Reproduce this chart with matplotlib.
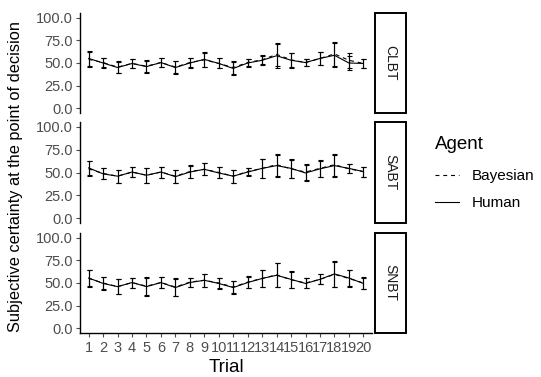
import matplotlib
matplotlib.use("Agg")
import matplotlib.pyplot as plt
from matplotlib.patches import Rectangle
import numpy as np

plt.rcParams['font.family'] = ['Liberation Sans', 'DejaVu Sans']

trials = list(range(1, 21))
panels = ["CLBT", "SABT", "SNBT"]
agents = ["Bayesian", "Human"]

human = {
    "CLBT": [55, 50, 45, 49.5, 46, 50.5, 45, 50, 54, 49.5, 44, 50, 53, 58, 53, 50.5, 55, 58.5, 50, 49.5],
    "SABT": [55, 48.5, 46, 50.5, 47, 50.5, 45.5, 50.5, 53.5, 49.5, 46, 50.5, 54.5, 57.5, 54.5, 49.5, 54, 57.5, 54.5, 51],
    "SNBT": [55.5, 49.5, 46, 50.5, 46, 50.5, 45, 50.5, 53, 49.5, 45, 50.5, 55, 58.5, 54, 49.5, 54, 60, 55.5, 49.5],
}
bayes = {
    "CLBT": [54, 50.5, 45.5, 49.5, 46.5, 50.5, 45.5, 50.5, 53.5, 49.5, 45, 50.5, 53.5, 59.5, 53.5, 50.5, 55, 60, 53, 49.5],
    "SABT": [54, 49, 46, 50.5, 47, 50.5, 46, 51, 53.5, 50, 46, 51, 54.5, 58.5, 54, 50.5, 54.5, 58.5, 54, 51],
    "SNBT": [55, 50, 46, 50.5, 46.5, 50.5, 45.5, 51, 53, 50, 45.5, 51, 55, 59, 53.5, 50, 54, 59.5, 55, 50],
}
err = {
    "CLBT": [8.5, 5, 6.5, 5, 6.5, 5, 7, 5, 8, 5.5, 7, 4, 5, 13, 8, 4, 7, 13, 8, 5],
    "SABT": [8, 6, 7, 5.5, 8, 6, 7, 7, 6.5, 6, 7, 4, 10, 12, 10, 9, 9, 12, 5, 5.5],
    "SNBT": [9, 7, 8, 5.5, 10, 6.5, 9.5, 5, 7, 6, 7, 6.5, 9.5, 13, 9, 5.5, 5.5, 14, 9, 6.5],
}
yticks = [0, 25, 50, 75, 100]
ytick_labels = ["0.0", "25.0", "50.0", "75.0", "100.0"]

W, H = 541, 377
fig = plt.figure(figsize=(W / 100, H / 100), dpi=100)

ax_left, ax_right = 80, 372
strip_l, strip_r = 375, 406
panel_px = [(13, 113), (122, 223), (233, 333)]
gray = "#4d4d4d"

handles = None
for i, name in enumerate(panels):
    top, bot = panel_px[i]
    ax = fig.add_axes([ax_left / W, 1 - bot / H, (ax_right - ax_left) / W, (bot - top) / H])
    x = np.array(trials)
    hb = ax.errorbar(x, bayes[name], yerr=err[name], color="black", lw=0.8,
                     ls=(0, (3.5, 3.5)), elinewidth=0.8, capsize=1.8, capthick=0.8)
    hh = ax.errorbar(x, human[name], yerr=err[name], color="black", lw=0.8,
                     ls="-", elinewidth=0.8, capsize=1.8, capthick=0.8)
    if handles is None:
        handles = [hb.lines[0], hh.lines[0]]
    ax.set_xlim(0.4, 20.6)
    ax.set_ylim(-5, 105)
    ax.set_yticks(yticks)
    ax.set_yticklabels(ytick_labels)
    for s in ["top", "right"]:
        ax.spines[s].set_visible(False)
    ax.spines["left"].set_linewidth(1.0)
    ax.spines["left"].set_color("black")
    ax.tick_params(axis="y", length=3, width=0.8, color=gray, labelsize=10.5,
                   labelcolor=gray, pad=2)
    if i < 2:
        ax.spines["bottom"].set_visible(False)
        ax.set_xticks([])
    else:
        ax.spines["bottom"].set_linewidth(1.0)
        ax.set_xticks(trials)
        ax.set_xticklabels([str(t) for t in trials])
        ax.tick_params(axis="x", length=3, width=0.8, color=gray, labelsize=10.5,
                       labelcolor=gray, pad=3)
        ax.set_xlabel("Trial", fontsize=13.5, labelpad=3)
    # strip
    rect = Rectangle((strip_l / W, 1 - bot / H), (strip_r - strip_l) / W, (bot - top) / H,
                     transform=fig.transFigure, facecolor="white", edgecolor="black",
                     lw=1.4)
    fig.patches.append(rect)
    fig.text((strip_l + strip_r) / 2 / W, 1 - (top + bot) / 2 / H, name,
             rotation=-90, ha="center", va="center", fontsize=10, color="#1a1a1a")

fig.text(16 / W, 1 - 176 / H, "Subjective certainty at the point of decision",
         rotation=90, ha="center", va="center", fontsize=11.8)

leg = fig.legend(handles, agents, title="Agent", loc="upper left",
                 bbox_to_anchor=(421 / W, 1 - 122 / H), frameon=False,
                 fontsize=11, title_fontsize=13.5, handlelength=1.6,
                 handletextpad=0.8, labelspacing=0.85)
leg._legend_box.align = "left"
leg._legend_box.sep = 12

fig.savefig("out.png", dpi=100)
